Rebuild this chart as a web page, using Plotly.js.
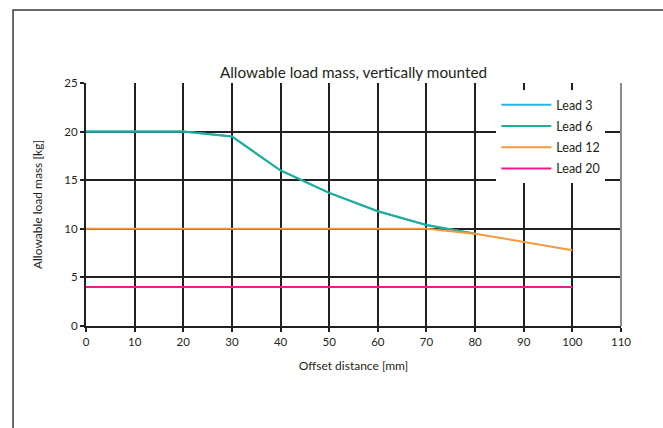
<!DOCTYPE html>
<html>
<head>
<meta charset="utf-8">
<script src="https://cdn.plot.ly/plotly-3.0.1.min.js"></script>
<style>html,body{margin:0;padding:0;background:#fff;}#chart{width:663px;height:428px;}</style>
</head>
<body>
<div id="chart"></div>
<script>
// Offset distance [mm]
const offsetMm = [0, 10, 20, 30, 40, 50, 60, 70, 80, 90, 100];
// Allowable load mass [kg] per lead (null = not drawn)
const lead3 = [20, 20, 20, 19.5, 16, 13.7, 11.8, 10.4, 9.5, null, null];
const lead6 = [20, 20, 20, 19.5, 16, 13.7, 11.8, 10.4, 9.5, null, null];
const lead12 = [10, 10, 10, 10, 10, 10, 10, 10, 9.5, 8.65, 7.8];
const lead20 = [4, 4, 4, 4, 4, 4, 4, 4, 4, 4, 4];
const seriesNames = ['Lead 3', 'Lead 6', 'Lead 12', 'Lead 20'];
const seriesColors = ['#2cb4e6', '#20ae98', '#f6993a', '#ec1c8c'];
const xTicks = [0, 10, 20, 30, 40, 50, 60, 70, 80, 90, 100, 110];
const yTicks = [0, 5, 10, 15, 20, 25];

const FONT = 'Lato, "Liberation Sans", sans-serif';
const INK = '#231f20';
const allY = [lead3, lead6, lead12, lead20];

const traces = allY.map((ys, i) => ({
  type: 'scatter', mode: 'lines',
  x: offsetMm, y: ys, name: seriesNames[i],
  legendgroup: 'g' + i,
  line: {color: seriesColors[i], width: 2},
  hoverinfo: 'skip'
}));

const layout = {
  width: 663, height: 428,
  margin: {l: 86, r: 42, t: 83, b: 102},
  paper_bgcolor: '#fff', plot_bgcolor: '#fff',
  font: {family: FONT, size: 11, color: INK},
  title: {text: 'Allowable load mass, vertically mounted', font: {family: FONT, size: 15.3, color: INK},
          x: 0.5, xref: 'paper', xanchor: 'center', y: 1, yref: 'paper', yanchor: 'bottom', pad: {b: 5}},
  xaxis: {
    range: [0, 110], tickvals: xTicks, ticktext: xTicks.map(String),
    showgrid: true, gridcolor: INK, gridwidth: 2, zeroline: false,
    showline: true, linecolor: INK, linewidth: 2,
    ticks: 'outside', ticklen: 4, tickwidth: 2, tickcolor: INK,
    tickfont: {family: FONT, size: 11.5, color: INK},
    title: {text: 'Offset distance [mm]', font: {family: FONT, size: 12, color: INK}, standoff: 15},
    fixedrange: true
  },
  yaxis: {
    range: [0, 25], tickvals: yTicks, ticktext: yTicks.map(String),
    showgrid: true, gridcolor: INK, gridwidth: 2, zeroline: false,
    showline: true, linecolor: INK, linewidth: 2,
    ticks: 'outside', ticklen: 4, tickwidth: 2, tickcolor: INK,
    tickfont: {family: FONT, size: 11.5, color: INK},
    title: {text: 'Allowable load mass [kg]', font: {family: FONT, size: 12, color: INK}, standoff: 19},
    fixedrange: true
  },
  legend: {
    x: 0.767, y: 0.971, xanchor: 'left', yanchor: 'top',
    bgcolor: '#fff', borderwidth: 0,
    font: {family: FONT, size: 12.5, color: INK},
    itemwidth: 50, tracegroupgap: 2
  },
  showlegend: true,
  shapes: [
    {type: 'line', xref: 'paper', yref: 'paper', x0: 1, x1: 1, y0: 0, y1: 1,
     line: {color: '#8c8c8c', width: 2}, layer: 'above'},
    {type: 'rect', xref: 'paper', yref: 'paper', x0: -0.1364, x1: 1.3, y0: -0.6, y1: 1.3004,
     line: {color: '#3a3a3a', width: 1.5}, fillcolor: 'rgba(0,0,0,0)', layer: 'below'}
  ]
};

Plotly.newPlot('chart', traces, layout, {displayModeBar: false, staticPlot: true});
</script>
</body>
</html>
